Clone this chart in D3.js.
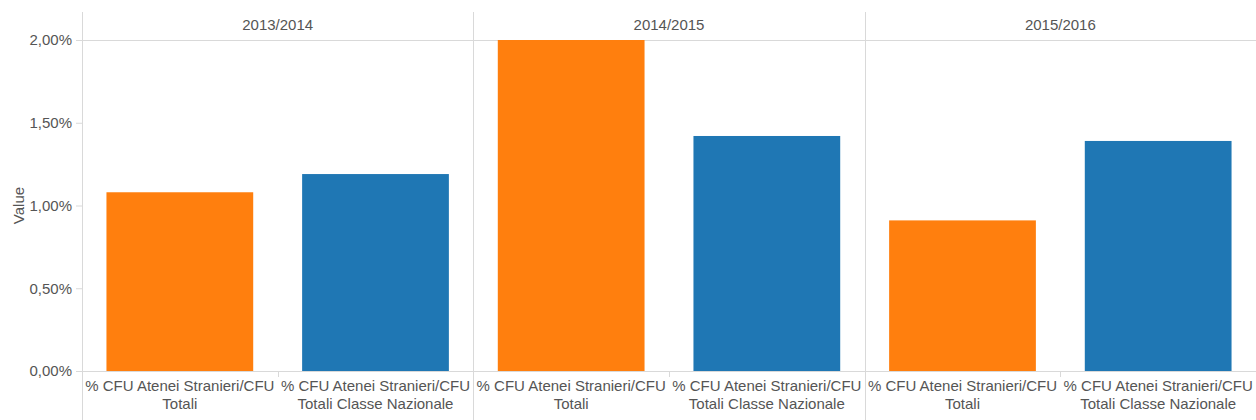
<!DOCTYPE html>
<html>
<head>
  <meta charset="utf-8">
  <script src="https://d3js.org/d3.v7.min.js"></script>
</head>
<style>
body { margin: 0; background: #fff; }
text { font-family: Arial, "Liberation Sans", sans-serif; fill: #555; }
</style>
<body>
  <svg id="chart"></svg>
</body>
<script>
  var years = ["2013/2014", "2014/2015", "2015/2016"];
  var measures = ["% CFU Atenei Stranieri/CFU Totali", "% CFU Atenei Stranieri/CFU Totali Classe Nazionale"];
  var measureLines = [["% CFU Atenei Stranieri/CFU", "Totali"], ["% CFU Atenei Stranieri/CFU", "Totali Classe Nazionale"]];
  var totali = [1.08, 2.00, 0.91];
  var classeNazionale = [1.19, 1.42, 1.39];
  var yTicks = [0, 0.5, 1.0, 1.5, 2.0];
  var colors = ["#ff7f0e", "#1f77b4"];

  var w = 1256, h = 420;
  var margin = {top: 40, left: 82, right: 0, bottom: 49};
  var gridColor = "#d9d9d9";

  var svg = d3.select("#chart").attr("width", w).attr("height", h);

  var x = d3.scaleBand().domain(years).range([margin.left, w - margin.right]);
  var xInner = d3.scaleBand().domain(measures).range([0, x.bandwidth()]).paddingInner(0.25).paddingOuter(0.125);
  var y = d3.scaleLinear().domain([0, 2]).range([h - margin.bottom, margin.top]);

  // header bottom line
  svg.append("line").attr("x1", margin.left).attr("x2", w)
    .attr("y1", y(2) + 0.5).attr("y2", y(2) + 0.5).attr("stroke", gridColor);

  // y axis ticks
  var yAxis = svg.append("g").attr("transform", "translate(" + margin.left + ",0)")
    .call(d3.axisLeft(y).tickValues(yTicks).tickSize(6).tickPadding(4)
      .tickFormat(function(d) { return d3.format(".2f")(d).replace(".", ",") + "%"; }));
  yAxis.select(".domain").remove();
  yAxis.selectAll("line").attr("stroke", gridColor);
  yAxis.selectAll("text").style("font-size", "15px").attr("fill", "#555");

  svg.append("text")
    .attr("transform", "translate(24," + ((margin.top + h - margin.bottom) / 2) + ") rotate(-90)")
    .attr("text-anchor", "middle").style("font-size", "15px").text("Value");

  var data = [];
  years.forEach(function(yr, i) {
    data.push({year: yr, measure: measures[0], value: totali[i], c: 0});
    data.push({year: yr, measure: measures[1], value: classeNazionale[i], c: 1});
  });

  svg.selectAll("rect.bar").data(data).enter().append("rect")
    .attr("class", "bar")
    .attr("x", function(d) { return x(d.year) + xInner(d.measure); })
    .attr("width", xInner.bandwidth())
    .attr("y", function(d) { return y(d.value); })
    .attr("height", function(d) { return y(0) - y(d.value); })
    .attr("fill", function(d) { return colors[d.c]; });

  // baseline
  svg.append("line").attr("x1", margin.left - 6).attr("x2", w)
    .attr("y1", y(0) + 0.5).attr("y2", y(0) + 0.5).attr("stroke", gridColor);

  // panel separators, headers, category labels
  years.forEach(function(yr, i) {
    var px = Math.round(x(yr)) + 0.5;
    svg.append("line").attr("x1", px).attr("x2", px).attr("y1", 12).attr("y2", h)
      .attr("stroke", gridColor);
    svg.append("text").attr("x", x(yr) + x.bandwidth() / 2).attr("y", 30)
      .attr("text-anchor", "middle").style("font-size", "15px").text(yr);
    var mid = Math.round(x(yr) + x.bandwidth() / 2) + 0.5;
    svg.append("line").attr("x1", mid).attr("x2", mid).attr("y1", y(0)).attr("y2", y(0) + 6)
      .attr("stroke", gridColor);
    measures.forEach(function(m, j) {
      var cx = x(yr) + xInner(m) + xInner.bandwidth() / 2;
      var t = svg.append("text").attr("text-anchor", "middle").style("font-size", "15px");
      measureLines[j].forEach(function(line, k) {
        t.append("tspan").attr("x", cx).attr("y", y(0) + 20 + k * 18).text(line);
      });
    });
  });
</script>
</html>
